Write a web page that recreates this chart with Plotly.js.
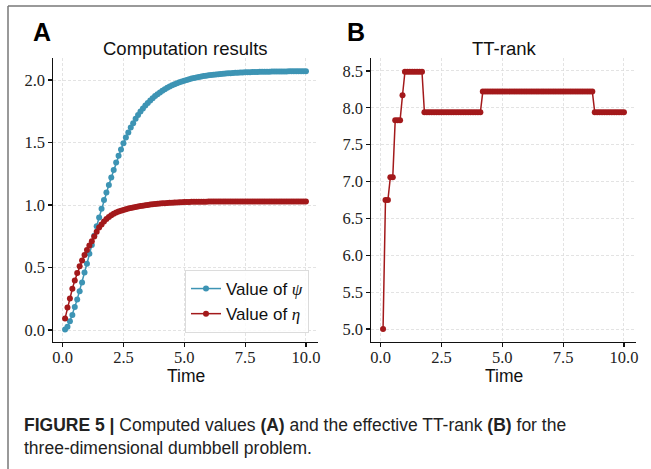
<!DOCTYPE html>
<html>
<head>
<meta charset="utf-8">
<script src="https://cdn.plot.ly/plotly-3.0.1.min.js"></script>
<style>
html,body{margin:0;padding:0;background:#fff;}
#chart{width:651px;height:469px;}
</style>
</head>
<body>
<div id="chart"></div>
<script>
// ---- data ----
const time = [0.1,0.2,0.3,0.4,0.5,0.6,0.7,0.8,0.9,1.0,
1.1,1.2,1.3,1.4,1.5,1.6,1.7,1.8,1.9,2.0,
2.1,2.2,2.3,2.4,2.5,2.6,2.7,2.8,2.9,3.0,
3.1,3.2,3.3,3.4,3.5,3.6,3.7,3.8,3.9,4.0,
4.1,4.2,4.3,4.4,4.5,4.6,4.7,4.8,4.9,5.0,
5.1,5.2,5.3,5.4,5.5,5.6,5.7,5.8,5.9,6.0,
6.1,6.2,6.3,6.4,6.5,6.6,6.7,6.8,6.9,7.0,
7.1,7.2,7.3,7.4,7.5,7.6,7.7,7.8,7.9,8.0,
8.1,8.2,8.3,8.4,8.5,8.6,8.7,8.8,8.9,9.0,
9.1,9.2,9.3,9.4,9.5,9.6,9.7,9.8,9.9,10.0];

const psi = [0.005,0.027,0.07,0.12,0.185,0.245,0.31,0.38,0.46,0.53,
0.61,0.68,0.755,0.83,0.90,0.97,1.04,1.10,1.16,1.22,
1.28,1.34,1.395,1.445,1.495,1.54,1.58,1.62,1.655,1.69,
1.721,1.748,1.773,1.796,1.817,1.837,1.855,1.872,1.887,1.901,
1.914,1.927,1.938,1.948,1.958,1.966,1.975,1.982,1.989,1.995,
2.001,2.007,2.012,2.016,2.021,2.025,2.028,2.032,2.035,2.038,
2.040,2.043,2.045,2.047,2.049,2.051,2.052,2.054,2.055,2.057,
2.058,2.059,2.060,2.061,2.062,2.062,2.063,2.064,2.064,2.065,
2.066,2.066,2.067,2.067,2.067,2.068,2.068,2.068,2.069,2.069,
2.069,2.069,2.070,2.070,2.070,2.070,2.070,2.070,2.071,2.071];

const eta = [0.093,0.18,0.253,0.33,0.397,0.456,0.51,0.557,0.60,0.64,
0.677,0.71,0.748,0.786,0.82,0.845,0.868,0.888,0.905,0.918,
0.93,0.94,0.948,0.955,0.961,0.967,0.972,0.977,0.981,0.985,
0.989,0.992,0.995,0.998,1.001,1.004,1.006,1.008,1.010,1.012,
1.014,1.015,1.017,1.018,1.019,1.020,1.021,1.022,1.023,1.024,
1.025,1.025,1.026,1.026,1.027,1.027,1.027,1.027,1.027,1.028,
1.028,1.028,1.028,1.028,1.028,1.028,1.028,1.028,1.028,1.028,
1.028,1.028,1.028,1.028,1.028,1.028,1.028,1.028,1.028,1.028,
1.028,1.028,1.028,1.028,1.028,1.028,1.028,1.028,1.028,1.028,
1.028,1.028,1.028,1.028,1.028,1.028,1.028,1.028,1.028,1.028];

const ttRank = [5.0,6.75,6.75,7.06,7.06,7.83,7.83,7.83,8.17,8.49,
8.49,8.49,8.49,8.49,8.49,8.49,8.49,7.94,7.94,7.94,
7.94,7.94,7.94,7.94,7.94,7.94,7.94,7.94,7.94,7.94,
7.94,7.94,7.94,7.94,7.94,7.94,7.94,7.94,7.94,7.94,
7.94,8.22,8.22,8.22,8.22,8.22,8.22,8.22,8.22,8.22,
8.22,8.22,8.22,8.22,8.22,8.22,8.22,8.22,8.22,8.22,
8.22,8.22,8.22,8.22,8.22,8.22,8.22,8.22,8.22,8.22,
8.22,8.22,8.22,8.22,8.22,8.22,8.22,8.22,8.22,8.22,
8.22,8.22,8.22,8.22,8.22,8.22,8.22,7.94,7.94,7.94,
7.94,7.94,7.94,7.94,7.94,7.94,7.94,7.94,7.94,7.94];

const seriesNames = ['Value of <span style="font-family:\'Liberation Serif\'"><i>ψ</i></span>',
                     'Value of <span style="font-family:\'Liberation Serif\'"><i>η</i></span>'];
const panelTitles = ['Computation results', 'TT-rank'];
const panelLetters = ['A', 'B'];
const xTitle = 'Time';

// ---- styling ----
const W = 651, H = 469;
const BLUE = '#3d94b4', RED = '#a3191b';
const px = v => v / W, py = v => 1 - v / H;

const traces = [
  {x: time, y: psi, name: seriesNames[0], type: 'scatter', mode: 'lines+markers',
   line: {color: BLUE, width: 1.5}, marker: {color: BLUE, size: 6}, xaxis: 'x', yaxis: 'y'},
  {x: time, y: eta, name: seriesNames[1], type: 'scatter', mode: 'lines+markers',
   line: {color: RED, width: 1.5}, marker: {color: RED, size: 6}, xaxis: 'x', yaxis: 'y'},
  {x: time, y: ttRank, name: 'TT-rank', type: 'scatter', mode: 'lines+markers', showlegend: false,
   line: {color: RED, width: 1.5}, marker: {color: RED, size: 6}, xaxis: 'x2', yaxis: 'y2'}
];

const tickFont = {family: 'Liberation Serif, serif', size: 16.5, color: '#222'};
const axBase = {
  showline: true, linecolor: '#111', linewidth: 1.2, mirror: false,
  ticks: 'outside', ticklen: 3.5, tickwidth: 1.2, tickcolor: '#111',
  showgrid: true, gridcolor: '#dcdcdc', griddash: '3px,2px', gridwidth: 0.8,
  zeroline: false, tickfont: tickFont, tickformat: '.1f', automargin: false
};
const xExtra = {range: [-0.395, 10.495], dtick: 2.5, tick0: 0, ticklabelstandoff: -4};
const yDom = [py(342), py(58)];

const layout = {
  width: W, height: H,
  margin: {l: 0, r: 0, t: 0, b: 0},
  paper_bgcolor: '#fff', plot_bgcolor: '#fff',
  font: {family: 'Liberation Sans, Arial, sans-serif', color: '#111'},
  showlegend: true,
  legend: {x: px(309), y: py(333), xanchor: 'right', yanchor: 'bottom',
           bgcolor: 'rgba(255,255,255,0.85)', bordercolor: '#dcdcdc', borderwidth: 1,
           itemwidth: 30, tracegroupgap: 0,
           font: {size: 17, color: '#111', family: 'Liberation Sans, Arial, sans-serif'}},
  xaxis: Object.assign({}, axBase, xExtra, {domain: [px(53), px(318)], anchor: 'y'}),
  yaxis: Object.assign({}, axBase, {domain: yDom, range: [-0.096, 2.176], dtick: 0.5, tick0: 0, anchor: 'x'}),
  xaxis2: Object.assign({}, axBase, xExtra, {domain: [px(371), px(636)], anchor: 'y2'}),
  yaxis2: Object.assign({}, axBase, {domain: yDom, range: [4.825, 8.675], dtick: 0.5, tick0: 5, anchor: 'x2'}),
  shapes: [
    {type: 'line', xref: 'paper', yref: 'paper', x0: px(8), x1: 1, y0: py(6), y1: py(6),
     line: {color: '#777', width: 1.5}},
    {type: 'line', xref: 'paper', yref: 'paper', x0: px(8), x1: px(8), y0: py(6), y1: 0,
     line: {color: '#777', width: 1.5}}
  ],
  annotations: [
    {text: panelTitles[0], xref: 'paper', yref: 'paper', x: px(185.5), y: py(48), xanchor: 'center', yanchor: 'middle',
     showarrow: false, font: {size: 18.5, color: '#111'}},
    {text: panelTitles[1], xref: 'paper', yref: 'paper', x: px(503.5), y: py(48), xanchor: 'center', yanchor: 'middle',
     showarrow: false, font: {size: 18.5, color: '#111'}},
    {text: xTitle, xref: 'paper', yref: 'paper', x: px(186), y: py(376), xanchor: 'center', yanchor: 'middle',
     showarrow: false, borderpad: 0, font: {size: 17.5, color: '#111'}},
    {text: xTitle, xref: 'paper', yref: 'paper', x: px(503.5), y: py(376), xanchor: 'center', yanchor: 'middle',
     showarrow: false, borderpad: 0, font: {size: 17.5, color: '#111'}},
    {text: '<b>' + panelLetters[0] + '</b>', xref: 'paper', yref: 'paper', x: px(42), y: py(32), xanchor: 'center', yanchor: 'middle',
     showarrow: false, font: {size: 25, color: '#000'}},
    {text: '<b>' + panelLetters[1] + '</b>', xref: 'paper', yref: 'paper', x: px(356), y: py(32), xanchor: 'center', yanchor: 'middle',
     showarrow: false, font: {size: 25, color: '#000'}},
    {text: '<b>FIGURE 5 |</b> Computed values <b>(A)</b> and the effective TT-rank <b>(B)</b> for the',
     xref: 'paper', yref: 'paper', x: px(22), y: py(425), xanchor: 'left', yanchor: 'middle',
     showarrow: false, font: {size: 17.5, color: '#222'}},
    {text: 'three-dimensional dumbbell problem.',
     xref: 'paper', yref: 'paper', x: px(22), y: py(448), xanchor: 'left', yanchor: 'middle',
     showarrow: false, font: {size: 17.5, color: '#222'}}
  ]
};

Plotly.newPlot('chart', traces, layout, {staticPlot: true, displayModeBar: false});
</script>
</body>
</html>
